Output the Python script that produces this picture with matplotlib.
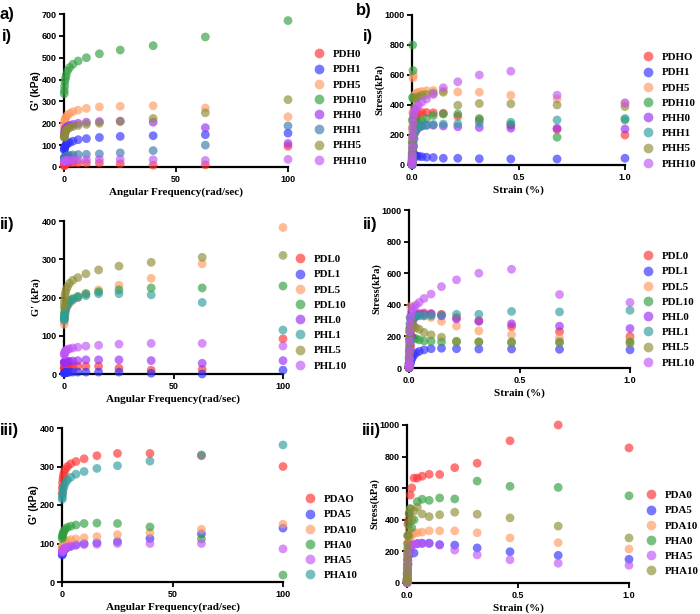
import matplotlib
matplotlib.use("Agg")
import matplotlib.pyplot as plt
from matplotlib.lines import Line2D

# ---- shared x values ----
freq = [100, 63.1, 39.8, 25.1, 15.8, 10, 6.31, 3.98, 2.51, 1.58, 1, 0.631, 0.398, 0.251, 0.158, 0.1]
strain = [1.0, 0.681, 0.464, 0.316, 0.215, 0.147, 0.1, 0.0681, 0.0464, 0.0316, 0.0215,
          0.0147, 0.01, 0.00681, 0.00464, 0.00316, 0.00215, 0.00147, 0.001, 0.000681,
          0.000464, 0.000316]

# ---- a-i : frequency sweep, H series ----
labels_ai = ["PDH0", "PDH1", "PDH5", "PDH10", "PHH0", "PHH1", "PHH5", "PHH10"]
g_pdh0 = [95, 10, 8, 15, 18, 18, 18, 20, 20, 18, 17, 15, 12, 10, 8, 5]
g_pdh1 = [155, 148, 143, 140, 135, 130, 125, 118, 112, 108, 103, 98, 92, 88, 83, 78]
g_pdh5 = [230, 270, 280, 278, 275, 268, 260, 253, 245, 238, 230, 222, 215, 205, 195, 180]
g_pdh10 = [670, 595, 555, 535, 518, 500, 485, 470, 455, 440, 420, 405, 390, 370, 350, 335]
g_phh0 = [108, 180, 205, 210, 208, 205, 200, 195, 190, 185, 180, 175, 168, 160, 150, 140]
g_phh1 = [188, 100, 75, 65, 60, 58, 57, 55, 53, 51, 49, 47, 45, 43, 42, 40]
g_phh5 = [308, 248, 222, 208, 200, 195, 190, 185, 180, 175, 168, 160, 152, 145, 140, 135]
g_phh10 = [35, 30, 33, 35, 35, 33, 32, 31, 30, 30, 29, 28, 28, 27, 26, 25]

# ---- b-i : strain sweep, H series ----
labels_bi = ["PDHO", "PDH1", "PDH5", "PDH10", "PHH0", "PHH1", "PHH5", "PHH10"]
s_pdh0 = [200, 237, 265, 300, 325, 345, 348, 350, 350, 340, 320, 300, 240, 120, 80, 50, 30, 20, 12, 8, 4, 2]
s_pdh1 = [45, 40, 40, 42, 45, 45, 50, 52, 55, 58, 60, 62, 65, 70, 75, 60, 40, 25, 15, 8, 4, 2]
s_pdh5 = [410, 440, 465, 485, 487, 495, 497, 495, 490, 485, 480, 470, 460, 600, 580, 350, 250, 180, 120, 60, 30, 10]
s_pdh10 = [300, 185, 270, 310, 340, 340, 330, 310, 295, 285, 275, 260, 320, 440, 630, 800, 450, 300, 150, 80, 40, 10]
s_phh0 = [240, 245, 245, 250, 255, 260, 265, 265, 260, 250, 235, 215, 175, 130, 90, 60, 40, 25, 15, 8, 4, 2]
s_phh1 = [310, 300, 285, 280, 275, 273, 270, 265, 260, 255, 245, 230, 210, 180, 150, 110, 70, 40, 20, 10, 5, 2]
s_phh5 = [390, 400, 408, 410, 398, 485, 480, 470, 465, 455, 450, 440, 380, 340, 300, 250, 200, 150, 100, 50, 25, 10]
s_phh10 = [415, 465, 625, 600, 555, 515, 470, 440, 420, 400, 385, 370, 350, 320, 280, 230, 180, 120, 60, 30, 15, 5]

# ---- a-ii : frequency sweep, L series ----
labels_aii = ["PDL0", "PDL1", "PDL5", "PDL10", "PHL0", "PHL1", "PHL5", "PHL10"]
g_pdl0 = [92, 12, 10, 15, 20, 20, 20, 20, 20, 20, 19, 19, 18, 17, 16, 15]
g_pdl1 = [10, 0, 2, 5, 5, 5, 5, 5, 5, 4, 4, 4, 3, 3, 2, 2]
g_pdl5 = [383, 288, 250, 232, 220, 210, 200, 192, 185, 178, 170, 162, 155, 148, 140, 130]
g_pdl10 = [230, 225, 225, 220, 215, 210, 203, 197, 192, 185, 180, 172, 165, 158, 150, 145]
g_phl0 = [35, 28, 35, 37, 37, 37, 35, 34, 33, 33, 32, 32, 31, 31, 30, 30]
g_phl1 = [115, 187, 207, 210, 210, 205, 200, 195, 188, 180, 175, 167, 160, 152, 146, 140]
g_phl5 = [310, 305, 292, 282, 272, 262, 252, 245, 237, 228, 220, 212, 205, 195, 185, 175]
g_phl10 = [73, 80, 80, 78, 75, 73, 70, 68, 66, 64, 62, 60, 57, 55, 52, 50]

# ---- b-ii : strain sweep, L series ----
labels_bii = ["PDL0", "PDL1", "PDL5", "PDL10", "PHL0", "PHL1", "PHL5", "PHL10"]
s_pdl0 = [200, 230, 262, 300, 320, 340, 345, 348, 345, 340, 330, 300, 240, 130, 90, 60, 40, 25, 15, 8, 4, 2]
s_pdl1 = [115, 118, 120, 120, 122, 125, 122, 115, 105, 95, 80, 65, 50, 35, 25, 15, 10, 6, 4, 2, 1, 0]
s_pdl5 = [180, 190, 210, 235, 265, 295, 320, 330, 335, 330, 320, 300, 280, 390, 250, 200, 150, 100, 60, 30, 15, 5]
s_pdl10 = [165, 165, 165, 165, 165, 165, 170, 172, 178, 185, 190, 195, 200, 260, 320, 250, 180, 120, 70, 35, 15, 5]
s_phl0 = [250, 265, 280, 295, 310, 330, 340, 340, 340, 330, 310, 280, 200, 150, 100, 70, 45, 25, 15, 8, 4, 2]
s_phl1 = [365, 355, 358, 340, 340, 335, 330, 330, 330, 328, 325, 320, 320, 310, 280, 230, 170, 110, 60, 30, 15, 5]
s_phl5 = [155, 160, 160, 165, 170, 195, 210, 225, 245, 255, 265, 270, 280, 260, 230, 190, 140, 90, 50, 25, 10, 3]
s_phl10 = [415, 465, 625, 600, 558, 515, 468, 440, 415, 398, 385, 370, 350, 320, 280, 230, 170, 110, 60, 30, 15, 5]

# ---- a-iii : frequency sweep, A series ----
labels_aiii = ["PDAO", "PDA5", "PDA10", "PHA0", "PHA5", "PHA10"]
g_pda0 = [300, 328, 334, 334, 328, 320, 313, 307, 300, 293, 285, 277, 268, 258, 245, 230]
g_pda5 = [140, 125, 113, 105, 102, 100, 97, 93, 90, 87, 84, 81, 78, 75, 72, 70]
g_pda10 = [150, 137, 128, 123, 118, 115, 112, 110, 107, 104, 101, 98, 96, 93, 90, 88]
g_pha0 = [18, 112, 143, 152, 153, 152, 148, 145, 142, 138, 133, 129, 125, 121, 117, 113]
g_pha5 = [86, 100, 100, 100, 98, 97, 95, 93, 91, 89, 87, 85, 83, 81, 79, 77]
g_pha10 = [356, 330, 314, 302, 295, 287, 280, 272, 265, 258, 250, 243, 236, 228, 220, 215]

# ---- b-iii : strain sweep, A series ----
labels_biii = ["PDA0", "PDA5", "PDA10", "PHA0", "PHA5", "PHA10"]
s_pda0 = [855, 1000, 900, 758, 730, 687, 688, 676, 664, 664, 602, 556, 440, 400, 370, 300, 250, 180, 120, 60, 25, 8]
s_pda5 = [150, 175, 198, 222, 240, 243, 252, 252, 250, 190, 240, 230, 200, 170, 120, 80, 50, 30, 15, 8, 4, 1]
s_pda10 = [215, 255, 285, 318, 330, 330, 330, 322, 318, 315, 305, 290, 270, 230, 190, 140, 90, 50, 25, 12, 5, 2]
s_pha0 = [552, 605, 612, 645, 532, 538, 523, 530, 515, 400, 350, 470, 440, 380, 300, 220, 150, 90, 50, 25, 10, 3]
s_pha5 = [112, 125, 147, 178, 208, 240, 250, 250, 248, 245, 240, 230, 210, 180, 140, 100, 60, 35, 18, 9, 4, 1]
s_pha10 = [285, 360, 412, 435, 448, 432, 420, 437, 480, 455, 400, 470, 340, 300, 250, 200, 150, 100, 60, 30, 15, 5]

RED, BLUE, ORANGE, GREEN = "#ff3030", "#2f2fff", "#ff9a60", "#2f9e3f"
PURPLE, STEEL, TEAL, OLIVE, VIOLET = "#9a2cf5", "#3a78ad", "#2e9c9c", "#8c8c35", "#c155f5"

SERIF = "Liberation Serif"
SANS = "Liberation Sans"

fig = plt.figure(figsize=(7.0, 6.14), dpi=100)


def px_axes(left, right, top, bottom):
    W, H = 700.0, 614.0
    return fig.add_axes([left / W, 1 - bottom / H, (right - left) / W, (bottom - top) / H])


def style(ax, xmax, ymax, yticks, xticks, xfmt, xlabel, ylabel, yfam):
    ax.set_xlim(0, xmax)
    ax.set_ylim(0, ymax)
    ax.set_yticks(yticks)
    ax.set_xticks(xticks)
    ax.set_xticklabels([xfmt.format(v) for v in xticks])
    ax.spines[["top", "right"]].set_visible(False)
    for s in ("left", "bottom"):
        ax.spines[s].set_linewidth(1.6)
    ax.tick_params(width=1.3, length=3.5, labelsize=6.5, pad=2)
    for t in ax.get_xticklabels() + ax.get_yticklabels():
        t.set_fontweight("bold")
        t.set_family(SANS)
    ax.set_xlabel(xlabel, family=SERIF, fontweight="bold", fontsize=8, labelpad=3)
    ax.set_ylabel(ylabel, family=yfam, fontweight="bold", fontsize=7.5, labelpad=0)


def scatter_all(ax, x, series, colors, labels):
    for y, c, lab in zip(series, colors, labels):
        ax.scatter(x, y, s=40, color=c, alpha=0.65, edgecolors="none", clip_on=False, zorder=3, label=lab)


def legend(ax, colors, labels, x, y):
    handles = [Line2D([], [], ls="", marker="o", ms=7, color=c, alpha=0.65, mec="none") for c in colors]
    ax.legend(handles, labels, loc="upper left", bbox_to_anchor=(x / 700, 1 - y / 614),
              bbox_transform=fig.transFigure, frameon=False, handlelength=0.8,
              handletextpad=0.85, borderpad=0, borderaxespad=0, labelspacing=0.52,
              prop={"family": SERIF, "weight": "bold", "size": 7.8})


# a-i
ax = px_axes(64, 288, 14, 167)
cols = [RED, BLUE, ORANGE, GREEN, PURPLE, STEEL, OLIVE, VIOLET]
scatter_all(ax, freq, [g_pdh0, g_pdh1, g_pdh5, g_pdh10, g_phh0, g_phh1, g_phh5, g_phh10], cols, labels_ai)
style(ax, 100, 700, range(0, 701, 100), [0, 50, 100], "{:d}", "Angular Frequency(rad/sec)", "G' (kPa)", SANS)
legend(ax, cols, labels_ai, 314.5, 49.5)

# b-i
ax = px_axes(412, 625, 15, 165)
cols = [RED, BLUE, ORANGE, GREEN, PURPLE, TEAL, OLIVE, VIOLET]
scatter_all(ax, strain, [s_pdh0, s_pdh1, s_pdh5, s_pdh10, s_phh0, s_phh1, s_phh5, s_phh10], cols, labels_bi)
style(ax, 1.0, 1000, range(0, 1001, 200), [0.0, 0.5, 1.0], "{:.1f}", "Strain (%)", "Stress(kPa)", SERIF)
legend(ax, cols, labels_bi, 643.5, 52.5)

# a-ii
ax = px_axes(64, 283, 221, 374)
cols = [RED, BLUE, ORANGE, GREEN, PURPLE, TEAL, OLIVE, VIOLET]
scatter_all(ax, freq, [g_pdl0, g_pdl1, g_pdl5, g_pdl10, g_phl0, g_phl1, g_phl5, g_phl10], cols, labels_aii)
style(ax, 100, 400, range(0, 401, 100), [0, 50, 100], "{:d}", "Angular Frequency(rad/sec)", "G' (kPa)", SERIF)
legend(ax, cols, labels_aii, 295.5, 254.5)

# b-ii
ax = px_axes(409, 630, 210, 368)
scatter_all(ax, strain, [s_pdl0, s_pdl1, s_pdl5, s_pdl10, s_phl0, s_phl1, s_phl5, s_phl10], cols, labels_bii)
style(ax, 1.0, 1000, range(0, 1001, 200), [0.0, 0.5, 1.0], "{:.1f}", "Strain (%)", "Stress(kPa)", SERIF)
legend(ax, cols, labels_bii, 643.5, 251.5)

# a-iii
ax = px_axes(62, 283, 428, 582)
cols = [RED, BLUE, ORANGE, GREEN, VIOLET, TEAL]
scatter_all(ax, freq, [g_pda0, g_pda5, g_pda10, g_pha0, g_pha5, g_pha10], cols, labels_aiii)
style(ax, 100, 400, range(0, 401, 100), [0, 50, 100], "{:d}", "Angular Frequency(rad/sec)", "G' (kPa)", SANS)
legend(ax, cols, labels_aiii, 305.5, 494.5)

# b-iii
ax = px_axes(407, 629, 425, 583)
cols = [RED, BLUE, ORANGE, GREEN, VIOLET, OLIVE]
scatter_all(ax, strain, [s_pda0, s_pda5, s_pda10, s_pha0, s_pha5, s_pha10], cols, labels_biii)
style(ax, 1.0, 1000, range(0, 1001, 200), [0.0, 0.5, 1.0], "{:.1f}", "Strain (%)", "Stress(kPa)", SERIF)
legend(ax, cols, labels_biii, 647, 490.5)

# panel labels
for txt, x, y in [("a)", 0, 14), ("i)", 2, 37), ("b)", 356, 11), ("i)", 363, 37),
                  ("ii)", 0, 225), ("ii)", 363, 225), ("iii)", 0, 430), ("iii)", 362, 430)]:
    fig.text(x / 700, 1 - y / 614, txt, family=SANS, fontweight="bold", fontsize=12, va="center", ha="left")

fig.savefig("out.png", dpi=100)
